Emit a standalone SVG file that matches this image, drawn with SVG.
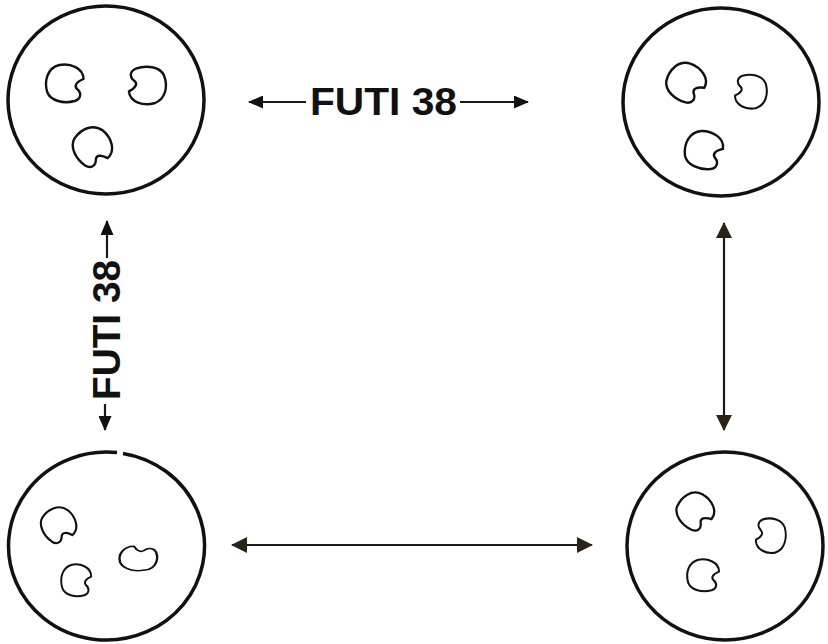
<svg xmlns="http://www.w3.org/2000/svg" width="828" height="644" viewBox="0 0 828 644">
<style>
.dish{fill:none;stroke:#111;stroke-width:3.5}
.cell{fill:none;stroke:#111;stroke-width:2.4;stroke-linejoin:round}
.conn{stroke:#1a1a1a;stroke-width:2.2;fill:none}
.lbl{font-family:"Liberation Sans",Arial,sans-serif;font-weight:bold;font-size:39px;fill:#111}
</style>
<defs>
<path id="bean" d="M 16.5,-4 C 16.5,-15 3.3,-20 -7.7,-18 C -19.8,-15 -23,-2 -19.8,9 C -16.5,18 -3.3,21 7.7,18 C 14,16 15,10 10,6 C 7,3 9,-1 16.5,-4 Z"/>
<marker id="ahS" viewBox="0 0 15 13" refX="14" refY="6.5" markerWidth="15" markerHeight="13" markerUnits="userSpaceOnUse" orient="auto-start-reverse">
<path d="M0,0 L15,6.5 L0,13 Z" fill="#111"/>
</marker>
<marker id="ahL" viewBox="0 0 16 16" refX="15" refY="8" markerWidth="16" markerHeight="16" markerUnits="userSpaceOnUse" orient="auto-start-reverse">
<path d="M0,0 L16,8 L0,16 Z" fill="#2a2418"/>
</marker>
</defs>
<rect width="828" height="644" fill="#fff"/>

<g id="dish-top-left">
<ellipse class="dish" cx="106" cy="100" rx="98" ry="94"/>
<use href="#bean" class="cell" transform="translate(67,83) rotate(0)"/>
<use href="#bean" class="cell" transform="translate(145,86) rotate(175)"/>
<use href="#bean" class="cell" transform="translate(94,148) rotate(50)"/>
</g>

<g id="dish-top-right">
<ellipse class="dish" cx="721" cy="102" rx="98" ry="94"/>
<use href="#bean" class="cell" transform="translate(688,83) rotate(30)"/>
<use href="#bean" class="cell" transform="translate(749,92) rotate(180) scale(0.85,0.9)"/>
<use href="#bean" class="cell" transform="translate(706,150) rotate(10)"/>
</g>

<g id="dish-bottom-left">
<path class="dish" d="M 123,453.4 A 98 94 0 1 1 117,452.6"/>
<use href="#bean" class="cell" transform="translate(60,526) rotate(50) scale(0.9)"/>
<use href="#bean" class="cell" transform="translate(138,557) rotate(-90) scale(0.65,1.0)"/>
<use href="#bean" class="cell" transform="translate(78,580) rotate(0) scale(0.8,0.85)"/>
</g>

<g id="dish-bottom-right">
<ellipse class="dish" cx="725" cy="546" rx="98" ry="94"/>
<use href="#bean" class="cell" transform="translate(697,512) rotate(40) scale(0.95)"/>
<use href="#bean" class="cell" transform="translate(769,536) rotate(180) scale(0.8,0.92)"/>
<use href="#bean" class="cell" transform="translate(705,575) rotate(0) scale(0.85)"/>
</g>

<g id="connectors">
<line class="conn" x1="306" y1="102" x2="249" y2="102" marker-end="url(#ahS)"/>
<line class="conn" x1="460" y1="102" x2="528" y2="102" marker-end="url(#ahS)"/>
<line class="conn" x1="107" y1="258" x2="107" y2="221" marker-end="url(#ahS)"/>
<line class="conn" x1="105" y1="404" x2="105" y2="430" marker-end="url(#ahS)"/>
<line class="conn" x1="232" y1="545" x2="592" y2="545" marker-start="url(#ahL)" marker-end="url(#ahL)"/>
<line class="conn" x1="724" y1="223" x2="724" y2="430" marker-start="url(#ahL)" marker-end="url(#ahL)"/>
</g>

<g id="labels">
<text class="lbl" x="310" y="115" textLength="147" lengthAdjust="spacingAndGlyphs">FUTI 38</text>
<text class="lbl" transform="translate(120,400) rotate(-90)" x="0" y="0" textLength="140" lengthAdjust="spacingAndGlyphs">FUTI 38</text>
</g>
</svg>
